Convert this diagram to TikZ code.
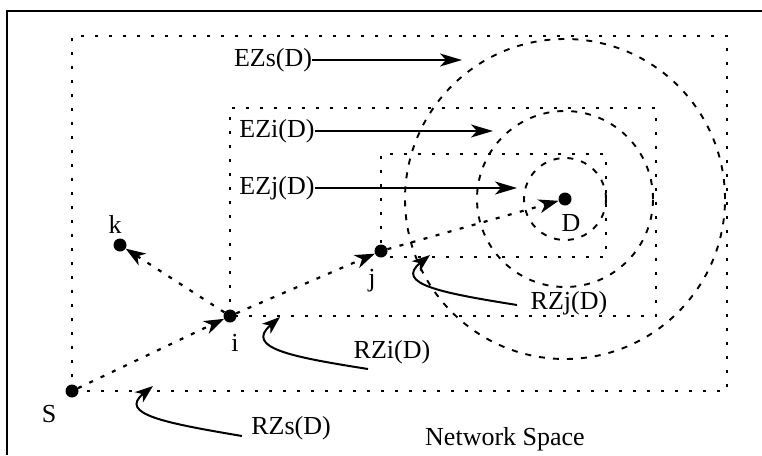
\documentclass[tikz,border=0pt]{standalone}
\usepackage{fontspec}
\setmainfont{Liberation Serif}
\usetikzlibrary{arrows.meta}
\begin{document}
\begin{tikzpicture}[x=1pt,y=-1pt,
  dot/.style={circle,fill,inner sep=0pt,minimum size=13pt},
  lbl/.style={inner sep=0pt,font=\fontsize{26}{30}\selectfont},
  zonebox/.style={line width=2.4pt,dash pattern=on 3pt off 11pt},
  zonering/.style={line width=1.9pt,dash pattern=on 6pt off 8pt},
  hop/.style={line width=2.2pt,dash pattern=on 4pt off 8.5pt,
    -{Stealth[length=20pt,width=14pt,inset=6pt]}},
  ezarrow/.style={line width=1.6pt,-{Stealth[length=22pt,width=13pt,inset=6pt]}},
  rzarrow/.style={line width=2pt,-{Stealth[length=18pt,width=13pt,inset=5pt]}}]
\useasboundingbox (0,0) rectangle (762,455);

% outer frame
\draw[line width=2pt] (7,455) -- (7,11) -- (762,11);

% hosts
\node[dot] (S) at (72,391) {};
\node[dot] (i) at (230,316) {};
\node[dot] (j) at (381,251) {};
\node[dot] (k) at (120,245) {};
\node[dot] (D) at (565,199) {};

% routing zones (dotted rectangles)
\draw[zonebox] (S.center) rectangle (727,36);
\draw[zonebox] (i.center) rectangle (656,108);
\draw[zonebox] (381,257) rectangle (606,154);

% expanding zones (dashed rings around D)
\draw[zonering] (D.center) circle[radius=41pt];
\draw[zonering] (D.center) circle[radius=88pt];
\draw[zonering] (D.center) circle[radius=160pt];

% host labels
\node[lbl] (Sl) at (49,414) {S};
\node[lbl] (il) at (235,343) {i};
\node[lbl] (jl) at (372,281) {j};
\node[lbl] (kl) at (115,224) {k};
\node[lbl] (Dl) at (571,223) {D};

% hops of the route
\draw[hop] (S) -- (i);
\draw[hop] (i) -- (j);
\draw[hop] (j) -- (D);
\draw[hop] (i) -- (k);

% expanding zone labels
\node[lbl] (ezs) at (273,60) {EZs(D)};
\node[lbl] (ezi) at (277,131) {EZi(D)};
\node[lbl] (ezj) at (277,188) {EZj(D)};
\coordinate (ezsT) at (462,60);
\coordinate (eziT) at (493,131);
\coordinate (ezjT) at (517,188);
\draw[ezarrow] (ezs) -- (ezsT);
\draw[ezarrow] (ezi) -- (eziT);
\draw[ezarrow] (ezj) -- (ezjT);

% routing zone labels
\node[lbl] (rzs) at (291,428) {RZs(D)};
\node[lbl] (rzi) at (392,352) {RZi(D)};
\node[lbl] (rzj) at (569,303) {RZj(D)};
\coordinate (rzsA) at (242,436);
\coordinate (rzsT) at (153,386);
\coordinate (rziA) at (368,369);
\coordinate (rziT) at (280,317);
\coordinate (rzjA) at (517,305);
\coordinate (rzjT) at (430,255);
\draw[rzarrow] (rzsA) .. controls (165,423) and (118,414) .. (rzsT);
\draw[rzarrow] (rziA) .. controls (292,357) and (244,348) .. (rziT);
\draw[rzarrow] (rzjA) .. controls (442,293) and (394,284) .. (rzjT);

\node[lbl,anchor=west] (ns) at (425,439) {Network Space};
\end{tikzpicture}
\end{document}
